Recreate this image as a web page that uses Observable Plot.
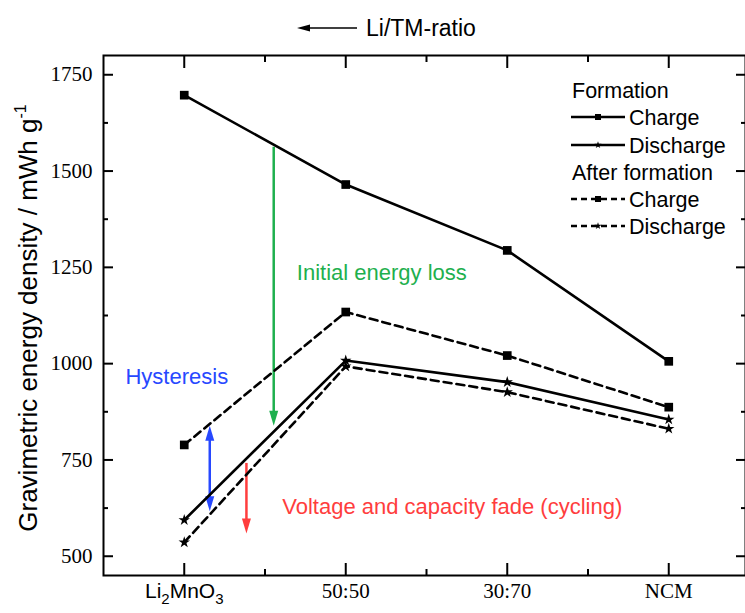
<!DOCTYPE html>
<html><head><meta charset="utf-8">
<script src="https://cdn.jsdelivr.net/npm/d3@7"></script>
<script src="https://cdn.jsdelivr.net/npm/@observablehq/plot@0.6"></script>
<style>body{margin:0;background:#fff}</style>
</head><body><div id="chart"></div>
<script>
// ---- data ----
const categories = ["Li2MnO3", "50:50", "30:70", "NCM"];
const formationCharge = [1697, 1465, 1294, 1006];
const formationDischarge = [594, 1008, 952, 855];
const afterCharge = [789, 1134, 1021, 887];
const afterDischarge = [536, 993, 926, 831];
const yTicks = [500, 750, 1000, 1250, 1500, 1750];
const yMinorTicks = [625, 875, 1125, 1375, 1625];
const xTicks = [1, 2, 3, 4];
const xMinorTicks = [1.5, 2.5, 3.5];
// annotation arrows (data units)
const greenArrow = [{x: 1.554, y1: 1562, y2: 839}];
const blueArrow = [{x: 1.158, y1: 839, y2: 617}];
const redArrow = [{x: 1.385, y1: 741, y2: 559}];
const notes = [
  {x: 1.697, y: 1235, text: "Initial energy loss", color: "#1eb04e"},
  {x: 0.636, y: 965, text: "Hysteresis", color: "#2748ff"},
  {x: 1.607, y: 627, text: "Voltage and capacity fade (cycling)", color: "#ff3d3d"}
];
const legendTitles = ["Formation", "After formation"];
const legendItems = ["Charge", "Discharge"];
const topLabel = "Li/TM-ratio";

const toRows = (vals) => vals.map((v, i) => ({x: i + 1, y: v}));
const fc = toRows(formationCharge), fd = toRows(formationDischarge);
const ac = toRows(afterCharge), ad = toRows(afterDischarge);

const headDown = {draw(ctx) { ctx.moveTo(0, 0); ctx.lineTo(-4.5, -15); ctx.lineTo(4.5, -15); ctx.closePath(); }};
const headUp = {draw(ctx) { ctx.moveTo(0, 0); ctx.lineTo(-4.5, 15); ctx.lineTo(4.5, 15); ctx.closePath(); }};

const LW = 2.6, DASH = "8,5";
const serif = "Liberation Serif";
const sans = "Liberation Sans";
const blank = () => "";

const chart = Plot.plot({
  width: 745, height: 613,
  marginLeft: 103, marginTop: 55, marginBottom: 38, marginRight: 0,
  style: {fontFamily: sans, background: "#fff", color: "#000"},
  x: {domain: [0.5, 4.5], range: [103, 749]},
  y: {domain: [450, 1800], range: [575, 55]},
  marks: [
    Plot.axisY(yTicks, {anchor: "left", tickSize: -10, tickFormat: blank, strokeWidth: 2, label: null}),
    Plot.axisY(yMinorTicks, {anchor: "left", tickSize: -5, tickFormat: blank, strokeWidth: 2, label: null}),
    Plot.axisY(yTicks, {anchor: "right", tickSize: -10, tickFormat: blank, strokeWidth: 2, label: null}),
    Plot.axisY(yMinorTicks, {anchor: "right", tickSize: -5, tickFormat: blank, strokeWidth: 2, label: null}),
    Plot.axisX(xTicks, {anchor: "bottom", tickSize: -12, tickFormat: blank, strokeWidth: 2, label: null}),
    Plot.axisX(xMinorTicks, {anchor: "bottom", tickSize: -6, tickFormat: blank, strokeWidth: 2, label: null}),
    Plot.axisX(xTicks, {anchor: "top", tickSize: -12, tickFormat: blank, strokeWidth: 2, label: null}),
    Plot.axisX(xMinorTicks, {anchor: "top", tickSize: -6, tickFormat: blank, strokeWidth: 2, label: null}),
    // tick labels
    Plot.text(yTicks, {y: d => d, text: d => String(d), frameAnchor: "left", dx: -11, textAnchor: "end", lineAnchor: "middle", fontSize: 21, fontFamily: serif, fill: "#000"}),
    Plot.text(xTicks.slice(1), {x: d => d, text: d => categories[d - 1], frameAnchor: "bottom", dy: 8, lineAnchor: "top", fontSize: 21, fontFamily: serif, fill: "#000"}),
    Plot.text(xTicks.slice(0, 1), {x: d => d, text: d => categories[d - 1], frameAnchor: "bottom", dy: 8, lineAnchor: "top", fontSize: 21, fontFamily: sans, fill: "#000", className: "subLabel"}),
    Plot.frame({stroke: "#000", strokeWidth: 2}),
    // arrows
    Plot.ruleX(greenArrow, {x: "x", y1: "y1", y2: "y2", stroke: "#1eb04e", strokeWidth: 2.5, insetBottom: 12}),
    Plot.dot(greenArrow, {x: "x", y: "y2", symbol: headDown, fill: "#1eb04e", r: 1}),
    Plot.ruleX(blueArrow, {x: "x", y1: "y1", y2: "y2", stroke: "#2748ff", strokeWidth: 2.5, insetTop: 12, insetBottom: 12}),
    Plot.dot(blueArrow, {x: "x", y: "y1", symbol: headUp, fill: "#2748ff", r: 1}),
    Plot.dot(blueArrow, {x: "x", y: "y2", symbol: headDown, fill: "#2748ff", r: 1}),
    Plot.ruleX(redArrow, {x: "x", y1: "y1", y2: "y2", stroke: "#ff3d3d", strokeWidth: 2.5, insetBottom: 12}),
    Plot.dot(redArrow, {x: "x", y: "y2", symbol: headDown, fill: "#ff3d3d", r: 1}),
    // series
    Plot.line(fc, {x: "x", y: "y", stroke: "#000", strokeWidth: LW}),
    Plot.line(fd, {x: "x", y: "y", stroke: "#000", strokeWidth: LW}),
    Plot.line(ac, {x: "x", y: "y", stroke: "#000", strokeWidth: LW, strokeDasharray: DASH}),
    Plot.line(ad, {x: "x", y: "y", stroke: "#000", strokeWidth: LW, strokeDasharray: DASH}),
    Plot.dot(fc, {x: "x", y: "y", symbol: "square", r: 4.9, fill: "#000"}),
    Plot.dot(ac, {x: "x", y: "y", symbol: "square", r: 4.9, fill: "#000"}),
    Plot.dot(fd, {x: "x", y: "y", symbol: "star", r: 3.6, fill: "#000"}),
    Plot.dot(ad, {x: "x", y: "y", symbol: "star", r: 3.6, fill: "#000"}),
    Plot.text(notes, {x: "x", y: "y", text: "text", fill: "color", textAnchor: "start", lineAnchor: "middle", fontSize: 22, fontFamily: sans})
  ]
});
document.getElementById("chart").appendChild(chart);

const svg = d3.select(chart);
// Li2MnO3 subscript label
svg.selectAll("text").filter(function() { return this.textContent.trim() === categories[0]; }).each(function() {
  const t = d3.select(this);
  t.text("");
  t.append("tspan").text("Li");
  t.append("tspan").style("font-size", "15px").attr("dy", 6).text("2");
  t.append("tspan").attr("dy", -6).text("MnO");
  t.append("tspan").style("font-size", "15px").attr("dy", 6).text("3");
});

// y axis title
const yt = svg.append("text").attr("transform", "translate(37,318) rotate(-90)")
  .attr("text-anchor", "middle").style("font-family", sans).style("font-size", "26px").attr("fill", "#000");
yt.append("tspan").text("Gravimetric energy density / mWh g");
yt.append("tspan").style("font-size", "16px").attr("dy", -11).text("-1");

// top arrow label
const topG = svg.append("g").attr("text-anchor", "start");
topG.append("line").attr("x1", 307).attr("x2", 357).attr("y1", 28).attr("y2", 28).attr("stroke", "#000").attr("stroke-width", 1.5);
topG.append("path").attr("d", "M297,28L310,24.5L310,31.5Z").attr("fill", "#000");
topG.append("text").attr("x", 366).attr("y", 28).attr("dy", "0.35em").style("font-family", sans).style("font-size", "23px").attr("fill", "#000").text(topLabel);

// legend
const leg = svg.append("g").style("font-family", sans).style("font-size", "21.5px").attr("fill", "#000").attr("text-anchor", "start");
const rowY = [90, 117, 145, 172, 199, 226];
const sq = d3.symbol(d3.symbolSquare, 36)(), st = d3.symbol(d3.symbolStar, 16)();
legendTitles.forEach((title, g) => {
  leg.append("text").attr("x", 572).attr("y", rowY[g * 3]).attr("dy", "0.35em").text(title);
  legendItems.forEach((name, k) => {
    const y = rowY[g * 3 + 1 + k];
    leg.append("line").attr("x1", 571).attr("x2", 625).attr("y1", y).attr("y2", y)
      .attr("stroke", "#000").attr("stroke-width", 2.4).attr("stroke-dasharray", g ? "6,4" : null);
    leg.append("path").attr("d", k ? st : sq).attr("transform", `translate(598,${y})`).attr("fill", "#000");
    leg.append("text").attr("x", 629).attr("y", y).attr("dy", "0.35em").text(name);
  });
});
</script></body></html>
